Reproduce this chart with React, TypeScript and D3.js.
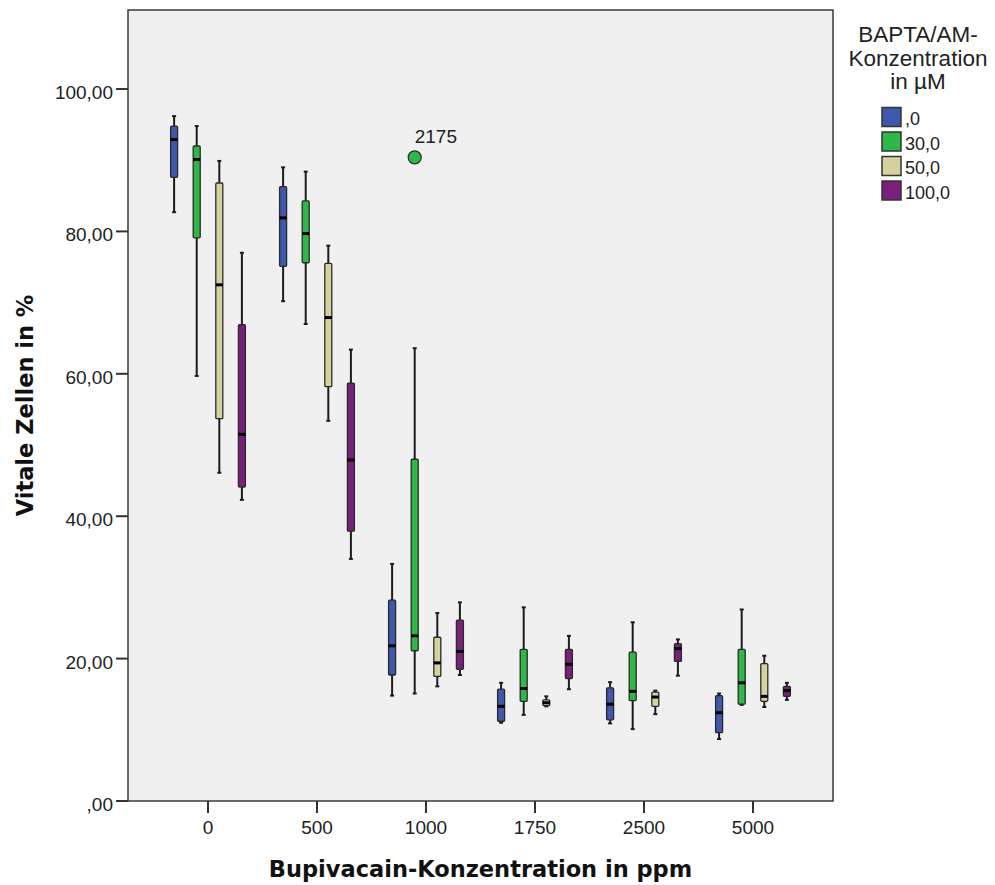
import React from "react";
import * as d3 from "d3";

// ---------- data ----------
const categories = ["0", "500", "1000", "1750", "2500", "5000"];
const seriesNames = [",0", "30,0", "50,0", "100,0"];
const seriesColors = ["#3E58AC", "#2EB848", "#D6D29E", "#7A1F7C"];

// [whiskerLow, q1, median, q3, whiskerHigh] per category
const stats0 = [
  [82.7, 87.6, 92.9, 94.8, 96.2],
  [70.2, 75.1, 81.9, 86.3, 89.0],
  [14.8, 17.7, 21.8, 28.2, 33.3],
  [11.0, 11.2, 13.3, 15.7, 16.6],
  [10.9, 11.4, 13.6, 15.9, 16.7],
  [8.7, 9.6, 12.4, 14.8, 15.1],
];
const stats30 = [
  [59.7, 79.1, 90.1, 92.0, 94.8],
  [67.0, 75.6, 79.7, 84.3, 88.4],
  [15.1, 21.1, 23.2, 48.0, 63.6],
  [12.1, 14.0, 15.8, 21.3, 27.2],
  [10.1, 14.1, 15.4, 20.9, 25.1],
  [13.5, 13.6, 16.6, 21.3, 26.9],
];
const stats50 = [
  [46.1, 53.7, 72.5, 86.8, 89.9],
  [53.4, 58.2, 67.9, 75.5, 78.0],
  [16.1, 17.5, 19.4, 23.0, 26.4],
  [13.3, 13.4, 13.8, 14.2, 14.7],
  [12.2, 13.3, 14.6, 15.3, 15.5],
  [13.2, 14.0, 14.7, 19.3, 20.4],
];
const stats100 = [
  [42.3, 44.1, 51.5, 66.9, 77.0],
  [34.0, 37.9, 47.9, 58.7, 63.4],
  [17.7, 18.5, 21.0, 25.4, 27.9],
  [15.7, 17.2, 19.2, 21.3, 23.2],
  [17.6, 19.6, 21.4, 22.1, 22.7],
  [14.2, 14.7, 15.5, 16.1, 16.6],
];
const allStats = [stats0, stats30, stats50, stats100];

const outlierCategory = "1000";
const outlierSeries = 1;
const outlierValue = 90.4;
const outlierLabel = "2175";

const yTicks = [0, 20, 40, 60, 80, 100];
const yTickLabels = [",00", "20,00", "40,00", "60,00", "80,00", "100,00"];

const xTitle = "Bupivacain-Konzentration in ppm";
const yTitle = "Vitale Zellen in %";
const legendTitle = ["BAPTA/AM-", "Konzentration", "in µM"];

// ---------- layout ----------
const W = 995;
const H = 885;
const plot = { left: 128, right: 833, top: 10, bottom: 801 };
const yMax = 111.1;

export default function App() {
  const x = d3
    .scalePoint<string>()
    .domain(categories)
    .range([plot.left, plot.right])
    .padding(0.734);
  const sub = d3
    .scaleBand<string>()
    .domain(seriesNames)
    .range([-45.2, 45.2]);
  const y = d3.scaleLinear().domain([0, yMax]).range([plot.bottom, plot.top]);

  const boxW = 7;
  const tickFont = "'Liberation Sans', Arial, sans-serif";
  const titleFont = "'DejaVu Sans', Verdana, sans-serif";
  const lineCol = "#1c1c1c";

  return (
    <svg
      width={W}
      height={H}
      style={{ position: "absolute", left: 0, top: 0, display: "block", background: "#fff" }}
    >
      <rect
        x={plot.left}
        y={plot.top}
        width={plot.right - plot.left}
        height={plot.bottom - plot.top}
        fill="#F0F0F0"
        stroke="#3a3a3a"
        strokeWidth={1.5}
      />

      {/* y axis ticks */}
      {yTicks.map((t, i) => (
        <g key={"yt" + i}>
          <line x1={plot.left - 12} x2={plot.left} y1={y(t)} y2={y(t)} stroke="#333" strokeWidth={2} />
          <text
            x={plot.left - 15}
            y={y(t) + 10}
            textAnchor="end"
            fontFamily={tickFont}
            fontSize={19}
            fill="#222"
          >
            {yTickLabels[i]}
          </text>
        </g>
      ))}

      {/* x axis ticks */}
      {categories.map((c) => (
        <g key={"xt" + c}>
          <line x1={x(c)} x2={x(c)} y1={plot.bottom} y2={plot.bottom + 12} stroke="#333" strokeWidth={2} />
          <text
            x={x(c)}
            y={834}
            textAnchor="middle"
            fontFamily={tickFont}
            fontSize={19}
            fill="#222"
          >
            {c}
          </text>
        </g>
      ))}

      {/* boxes */}
      {allStats.map((stats, si) =>
        stats.map((s, ci) => {
          const cx = (x(categories[ci]) as number) + (sub(seriesNames[si]) as number) + sub.bandwidth() / 2;
          const [lo, q1, med, q3, hi] = s;
          return (
            <g key={`b${si}-${ci}`}>
              <line x1={cx} x2={cx} y1={y(hi)} y2={y(q3)} stroke={lineCol} strokeWidth={2} />
              <line x1={cx} x2={cx} y1={y(q1)} y2={y(lo)} stroke={lineCol} strokeWidth={2} />
              <line x1={cx - 2} x2={cx + 2} y1={y(hi)} y2={y(hi)} stroke={lineCol} strokeWidth={2} />
              <line x1={cx - 2} x2={cx + 2} y1={y(lo)} y2={y(lo)} stroke={lineCol} strokeWidth={2} />
              <rect
                x={cx - boxW / 2}
                y={y(q3)}
                width={boxW}
                height={Math.max(1, y(q1) - y(q3))}
                fill={seriesColors[si]}
                stroke="#2a2a2a"
                strokeWidth={1.3}
                rx={1}
              />
              <rect x={cx - boxW / 2} y={y(med) - 1.5} width={boxW} height={3} fill="#000" />
            </g>
          );
        })
      )}

      {/* outlier */}
      {(() => {
        const cx =
          (x(outlierCategory) as number) +
          (sub(seriesNames[outlierSeries]) as number) +
          sub.bandwidth() / 2;
        return (
          <g>
            <circle cx={cx} cy={y(outlierValue)} r={6.5} fill={seriesColors[outlierSeries]} stroke="#2a2a2a" strokeWidth={1.2} />
            <text x={cx} y={y(outlierValue) - 14} fontFamily={tickFont} fontSize={19} fill="#222">
              {outlierLabel}
            </text>
          </g>
        );
      })()}

      {/* axis titles */}
      <text
        x={(plot.left + plot.right) / 2}
        y={877}
        textAnchor="middle"
        fontFamily={titleFont}
        fontWeight="bold"
        fontSize={22.5}
        fill="#111"
      >
        {xTitle}
      </text>
      <text
        transform={`translate(33, ${(plot.top + plot.bottom) / 2}) rotate(-90)`}
        textAnchor="middle"
        fontFamily={titleFont}
        fontWeight="bold"
        fontSize={22.5}
        fill="#111"
      >
        {yTitle}
      </text>

      {/* legend */}
      {legendTitle.map((t, i) => (
        <text
          key={"lt" + i}
          x={918}
          y={42 + i * 23.5}
          textAnchor="middle"
          fontFamily={tickFont}
          fontSize={22.5}
          fill="#222"
        >
          {t}
        </text>
      ))}
      {seriesNames.map((n, i) => {
        const cy = 117 + i * 24.5;
        return (
          <g key={"lg" + i}>
            <rect x={882} y={cy - 9.5} width={19} height={19} fill={seriesColors[i]} stroke="#333" strokeWidth={1.5} />
            <text x={905} y={cy + 8} fontFamily={tickFont} fontSize={18} fill="#222">
              {n}
            </text>
          </g>
        );
      })}
    </svg>
  );
}
